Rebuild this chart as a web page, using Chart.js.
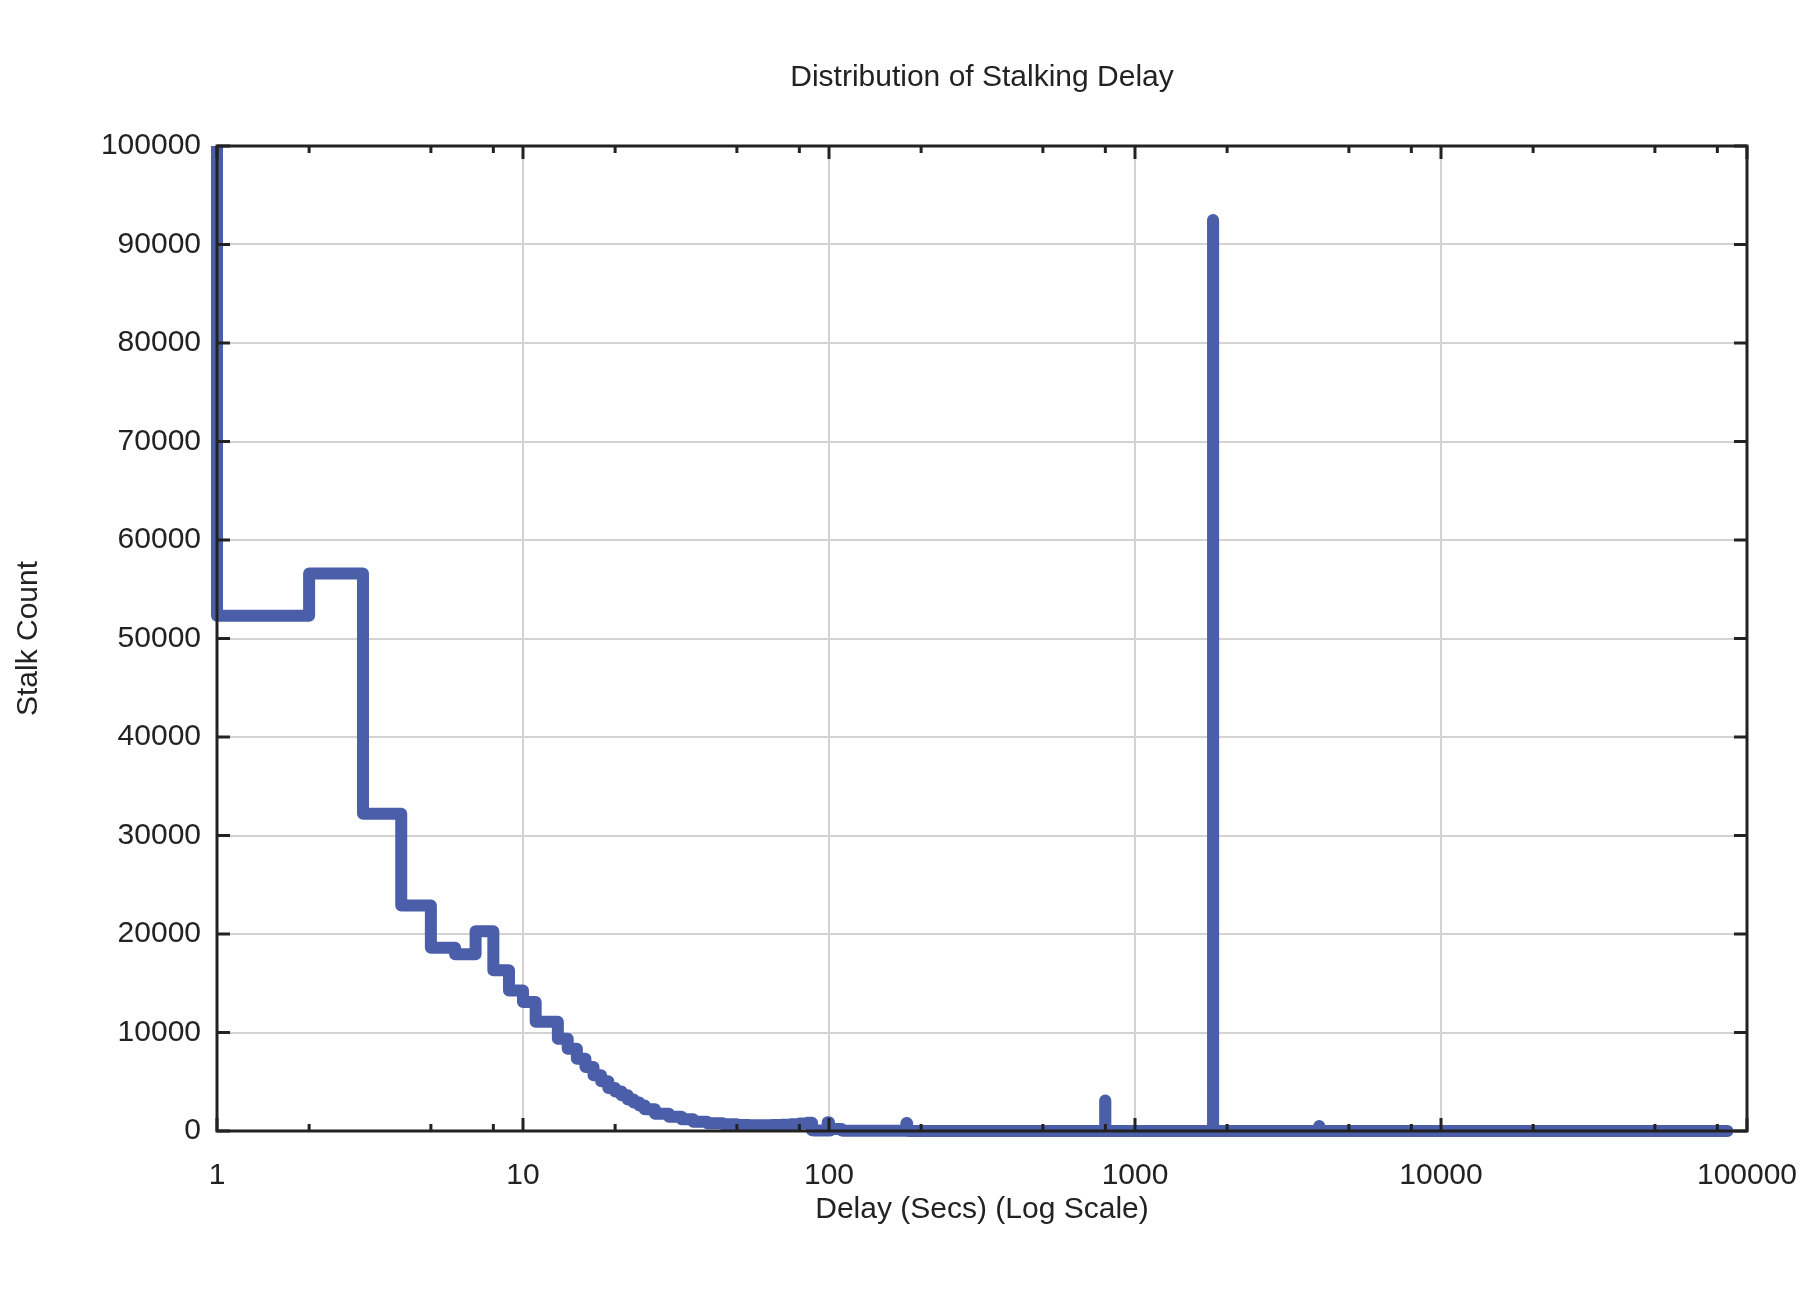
<!DOCTYPE html>
<html>
<head>
<meta charset="utf-8">
<script src="https://cdn.jsdelivr.net/npm/chart.js@4.4.1/dist/chart.umd.min.js"></script>
<style>
  html, body { margin: 0; padding: 0; background: #fff; }
  canvas { display: block; }
</style>
</head>
<body>
<canvas id="delayChart" width="1800" height="1300"></canvas>
<script>
// delay in seconds, stall count (fsteps: count applies to the interval ending at that delay)
const delays = [
  1, 2, 3, 4, 5, 6, 7, 8, 9, 10,
  11, 12, 13, 14, 15, 16, 17, 18, 19, 20,
  21, 22, 23, 24, 25, 27, 30, 33, 36, 40,
  45, 50, 55, 60, 65, 70, 75, 80, 85, 88,
  89, 95, 99, 100, 101, 110, 111, 150, 179, 180,
  181, 250, 400, 600, 799, 800, 801, 1200, 1799, 1800,
  1801, 2500, 3999, 4000, 4001, 10000, 30000, 86400
];
const counts = [
  115000, 52300, 56600, 32200, 22900, 18600, 17950, 20270, 16320, 14260,
  13100, 11100, 11100, 9370, 8360, 7340, 6500, 5650, 5040, 4370,
  4000, 3620, 3200, 2900, 2600, 2200, 1760, 1450, 1200, 950,
  780, 680, 620, 590, 580, 600, 640, 690, 760, 830,
  80, 60, 50, 900, 60, 200, 40, 30, 20, 800,
  20, 10, 10, 10, 10, 3100, 10, 10, 10, 92500,
  10, 5, 5, 500, 5, 5, 5, 5
];

const xTickValues = [1, 10, 100, 1000, 10000, 100000];
const xMinorTicks = [2, 5, 8, 20, 50, 80, 200, 500, 800, 2000, 5000, 8000, 20000, 50000, 80000];

const chartTitle = "Distribution of Stalking Delay";
const fontFamily = "'Liberation Sans', Arial, Helvetica, sans-serif";
const textColor = "#222";
const lineColor = "#4a5ea9";

// frame + inward ticks on all four sides, drawn over the line like gnuplot does
// title is centred over the plot box, not the canvas
const frameTicks = {
  id: "frameTicks",
  afterDatasetsDraw(chart) {
    const { ctx, chartArea: a, scales: { x, y } } = chart;
    ctx.save();
    ctx.strokeStyle = "#222";
    ctx.lineWidth = 3;
    ctx.beginPath();
    y.ticks.forEach((t) => {
      const py = y.getPixelForValue(t.value);
      ctx.moveTo(a.left, py); ctx.lineTo(a.left + 13, py);
      ctx.moveTo(a.right, py); ctx.lineTo(a.right - 13, py);
    });
    xTickValues.forEach((v) => {
      const px = x.getPixelForValue(v);
      ctx.moveTo(px, a.bottom); ctx.lineTo(px, a.bottom - 13);
      ctx.moveTo(px, a.top); ctx.lineTo(px, a.top + 13);
    });
    xMinorTicks.forEach((v) => {
      const px = x.getPixelForValue(v);
      ctx.moveTo(px, a.bottom); ctx.lineTo(px, a.bottom - 7);
      ctx.moveTo(px, a.top); ctx.lineTo(px, a.top + 7);
    });
    ctx.stroke();
    ctx.strokeRect(a.left, a.top, a.right - a.left, a.bottom - a.top);

    ctx.fillStyle = textColor;
    ctx.font = "30px " + fontFamily;
    ctx.textAlign = "center";
    ctx.textBaseline = "middle";
    ctx.fillText(chartTitle, (a.left + a.right) / 2, 78);
    ctx.restore();
  },
};

new Chart(document.getElementById("delayChart"), {
  type: "line",
  data: {
    datasets: [
      {
        data: delays.map((d, i) => ({ x: d, y: counts[i] })),
        borderColor: lineColor,
        borderWidth: 12,
        borderJoinStyle: "round",
        borderCapStyle: "round",
        stepped: "after",
        pointRadius: 0,
        fill: false,
        clip: { left: 10, top: 0, right: 10, bottom: 10 },
      },
    ],
  },
  options: {
    responsive: false,
    animation: false,
    devicePixelRatio: 1,
    layout: { padding: { top: 146, right: 53, bottom: 0, left: 0 } },
    plugins: {
      legend: { display: false },
      tooltip: { enabled: false },
      title: { display: false },
    },
    scales: {
      x: {
        type: "logarithmic",
        min: 1,
        max: 100000,
        afterBuildTicks: (scale) => {
          scale.ticks = xTickValues.map((v) => ({ value: v, major: true }));
        },
        afterFit: (scale) => {
          scale.height = 169;
          scale.paddingLeft = 0;
          scale.paddingRight = 0;
        },
        ticks: {
          color: textColor,
          font: { family: fontFamily, size: 30 },
          padding: 27,
          maxRotation: 0,
          autoSkip: false,
          callback: (v) => String(v),
        },
        grid: { color: "#d3d3d3", lineWidth: 2, drawTicks: false },
        border: { display: false },
        title: {
          display: true,
          text: "Delay (Secs) (Log Scale)",
          color: textColor,
          font: { family: fontFamily, size: 30 },
          padding: { top: 0, bottom: 72 },
        },
      },
      y: {
        min: 0,
        max: 100000,
        afterFit: (scale) => {
          scale.width = 217;
          scale.paddingTop = 0;
          scale.paddingBottom = 0;
        },
        ticks: {
          stepSize: 10000,
          color: textColor,
          font: { family: fontFamily, size: 30 },
          padding: 16,
          callback: (v) => String(v),
        },
        grid: { color: "#d3d3d3", lineWidth: 2, drawTicks: false },
        border: { display: false },
        title: {
          display: true,
          text: "Stalk Count",
          color: textColor,
          font: { family: fontFamily, size: 30 },
          padding: { top: 11, bottom: 0 },
        },
      },
    },
  },
  plugins: [frameTicks],
});
</script>
</body>
</html>
